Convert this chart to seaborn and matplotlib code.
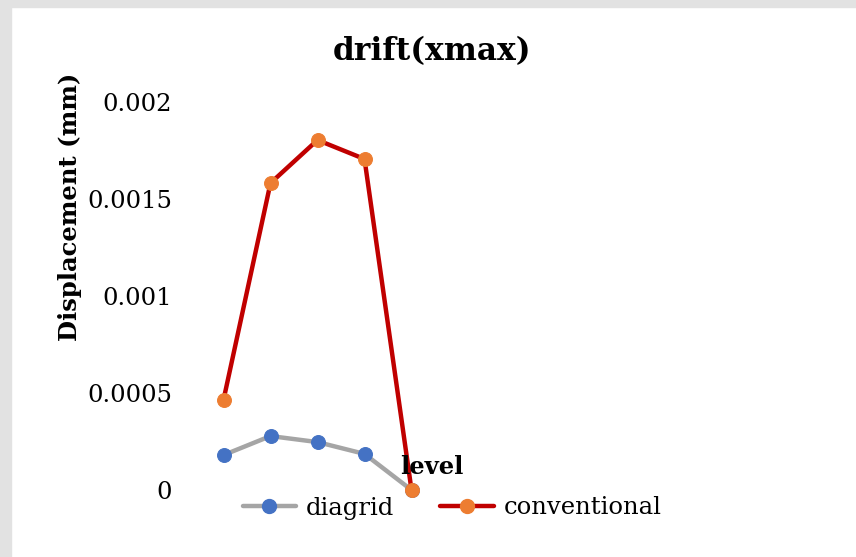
import matplotlib
matplotlib.use("Agg")
import matplotlib.pyplot as plt
import seaborn as sns
import pandas as pd
from matplotlib.patches import Rectangle
from matplotlib.lines import Line2D

sns.set_theme(style="white")
plt.rcParams['font.family'] = ['DejaVu Serif', 'Liberation Serif']
plt.rcParams['text.color'] = 'black'
plt.rcParams['ytick.color'] = 'black'

levels = [1, 2, 3, 4, 5]
diagrid = [0.00018, 0.000278, 0.000247, 0.000186, 0.0]
conventional = [0.000464, 0.001582, 0.001804, 0.001706, 0.0]
yticks = [0, 0.0005, 0.001, 0.0015, 0.002]
ytick_labels = ["0", "0.0005", "0.001", "0.0015", "0.002"]
n_categories = 10

df = pd.DataFrame({"level": levels, "diagrid": diagrid, "conventional": conventional})

W, H = 856, 557
fig = plt.figure(figsize=(W / 100, H / 100), dpi=100)
fig.patch.set_facecolor("white")

# grey page strips
fig.add_artist(Rectangle((0, 0), 11 / W, 1, transform=fig.transFigure, color="#e2e2e2", zorder=0))
fig.add_artist(Rectangle((0, 1 - 7 / H), 1, 7 / H, transform=fig.transFigure, color="#e2e2e2", zorder=0))

left, right = 200 / W, 670 / W
bottom, top = (H - 490) / H, (H - 102) / H
ax = fig.add_axes([left, bottom, right - left, top - bottom])

line_kw = dict(linewidth=3.2, marker="o", markersize=10, clip_on=False)
sns.lineplot(data=df, x="level", y="diagrid", ax=ax, color="#a5a5a5",
             markerfacecolor="#4472c4", markeredgecolor="#4472c4", zorder=3, **line_kw)
sns.lineplot(data=df, x="level", y="conventional", ax=ax, color="#c00000",
             markerfacecolor="#ed7d31", markeredgecolor="#ed7d31", zorder=4, **line_kw)

ax.set_xlim(0.5, n_categories + 0.5)
ax.set_ylim(0, 0.002)
ax.set_xticks([])
ax.set_yticks(yticks)
ax.set_yticklabels(ytick_labels, fontsize=17.5, color="black")
ax.tick_params(axis="y", length=0, pad=20)
for s in ax.spines.values():
    s.set_visible(False)
ax.set_xlabel("")
ax.set_ylabel("")
ax.grid(False)
ax.patch.set_visible(False)

fig.text(432 / W, 1 - 52 / H, "drift(xmax)", ha="center", va="center", fontsize=22.5,
         fontweight="bold", color="black")
fig.text(70 / W, 1 - 207 / H, "Displacement (mm)", ha="center", va="center", rotation=90,
         fontsize=17.5, fontweight="bold", color="black")
fig.text(432 / W, 1 - 467 / H, "level", ha="center", va="center", fontsize=17.5,
         fontweight="bold", color="black", zorder=5)

handles = [
    Line2D([], [], color="#a5a5a5", linewidth=3.2, marker="o", markersize=10,
           markerfacecolor="#4472c4", markeredgecolor="#4472c4"),
    Line2D([], [], color="#c00000", linewidth=3.2, marker="o", markersize=10,
           markerfacecolor="#ed7d31", markeredgecolor="#ed7d31"),
]
fig.legend(handles, ["diagrid", "conventional"], loc="center", bbox_to_anchor=(452 / W, 1 - 508 / H),
           ncol=2, frameon=False, fontsize=17.5, handlelength=2.2, columnspacing=1.9,
           handletextpad=0.4, labelcolor="black")

fig.savefig("out.png", dpi=100)
